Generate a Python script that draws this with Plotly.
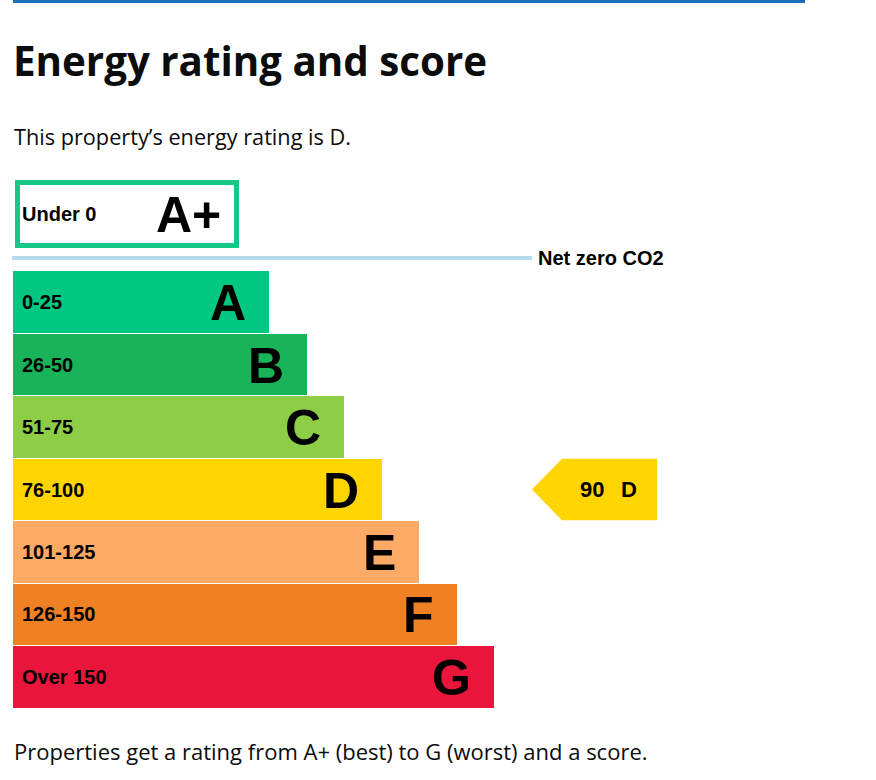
import plotly.graph_objects as go

# ---- data ----
bands = ["A", "B", "C", "D", "E", "F", "G"]
score_ranges = ["0-25", "26-50", "51-75", "76-100", "101-125", "126-150", "Over 150"]
bar_lengths = [256, 294, 331, 369, 406, 444, 481]  # relative bar lengths
band_colors = ["#00c781", "#19b459", "#8dce46", "#ffd500", "#fcaa65", "#ef8023", "#e9153b"]
top_band = "A+"
top_range = "Under 0"
top_length = 219
current_score = 90
current_band = "D"

title = "Energy rating and score"
subtitle = "This property\u2019s energy rating is D."
footer = "Properties get a rating from A+ (best) to G (worst) and a score."
net_zero_label = "Net zero CO2"

# ---- layout constants (pixels) ----
W, H = 876, 780
X0 = 12.7
Y0 = 271.0
PITCH = 62.45
LABEL_FONT = "Liberation Sans, Arial, sans-serif"
TEXT_FONT = "Open Sans, sans-serif"

centers = [Y0 + (i + 0.5) * PITCH for i in range(len(bands))]

fig = go.Figure()

# rating bars
fig.add_trace(go.Bar(
    orientation="h", y=centers, x=bar_lengths, base=X0, width=PITCH - 0.9,
    marker=dict(color=band_colors, line=dict(width=0)), hoverinfo="skip",
))

# A+ outlined box
fig.add_trace(go.Bar(
    orientation="h", y=[214], x=[top_length], base=[17.5], width=63,
    marker=dict(color="white", line=dict(color="#17c788", width=5)), hoverinfo="skip",
))

# current score arrow
ci = bands.index(current_band)
cy = centers[ci]
half = (PITCH - 0.9) / 2
ax = [532, 562, 657, 657, 562, 532]
ay = [cy, cy - half, cy - half, cy + half, cy + half, cy]
fig.add_trace(go.Scatter(x=ax, y=ay, fill="toself", fillcolor=band_colors[ci],
                         line=dict(width=0, color=band_colors[ci]), mode="lines", hoverinfo="skip"))

# net zero line
fig.add_trace(go.Scatter(x=[12, 532], y=[258, 258], mode="lines",
                         line=dict(color="#b3dbe8", width=4), hoverinfo="skip"))
# top blue rule
fig.add_trace(go.Scatter(x=[13, 805], y=[1.5, 1.5], mode="lines",
                         line=dict(color="#1d70b8", width=3), hoverinfo="skip"))

ann = []
for i, (b, r, L) in enumerate(zip(bands, score_ranges, bar_lengths)):
    ann.append(dict(x=20, y=centers[i], text=r, xanchor="left", yanchor="middle", showarrow=False,
                    font=dict(family=LABEL_FONT, size=20, color="black", weight="bold")))
    ann.append(dict(x=X0 + L - 21, y=centers[i] + 1, text=b, xanchor="right", yanchor="middle", showarrow=False,
                    font=dict(family=LABEL_FONT, size=50, color="black", weight="bold")))
ann.append(dict(x=20, y=214, text=top_range, xanchor="left", yanchor="middle", showarrow=False,
                font=dict(family=LABEL_FONT, size=20, color="black", weight="bold")))
ann.append(dict(x=223, y=215, text=top_band, xanchor="right", yanchor="middle", showarrow=False,
                font=dict(family=LABEL_FONT, size=50, color="black", weight="bold")))
ann.append(dict(x=536, y=258, text=net_zero_label, xanchor="left", yanchor="middle", showarrow=False,
                font=dict(family=LABEL_FONT, size=20, color="black", weight="bold")))
ann.append(dict(x=578, y=cy, text=str(current_score), xanchor="left", yanchor="middle",
                showarrow=False, font=dict(family=LABEL_FONT, size=22, color="black", weight="bold")))
ann.append(dict(x=619, y=cy, text=current_band, xanchor="left", yanchor="middle",
                showarrow=False, font=dict(family=LABEL_FONT, size=22, color="black", weight="bold")))
ann.append(dict(x=11, y=60, text=title, xanchor="left", yanchor="middle", showarrow=False,
                font=dict(family=TEXT_FONT, size=40.3, color="#0b0c0c", weight="bold")))
ann.append(dict(x=12, y=136, text=subtitle, xanchor="left", yanchor="middle", showarrow=False,
                font=dict(family=TEXT_FONT, size=21.7, color="#0b0c0c")))
ann.append(dict(x=12, y=751, text=footer, xanchor="left", yanchor="middle", showarrow=False,
                font=dict(family=TEXT_FONT, size=22, color="#0b0c0c")))

fig.update_layout(
    width=W, height=H, margin=dict(l=0, r=0, t=0, b=0),
    paper_bgcolor="white", plot_bgcolor="white", showlegend=False,
    barmode="overlay", bargap=0,
    xaxis=dict(range=[0, W], visible=False, fixedrange=True),
    yaxis=dict(range=[H, 0], visible=False, fixedrange=True),
    annotations=ann,
)

fig.write_html("out.html", config={"displayModeBar": False})
